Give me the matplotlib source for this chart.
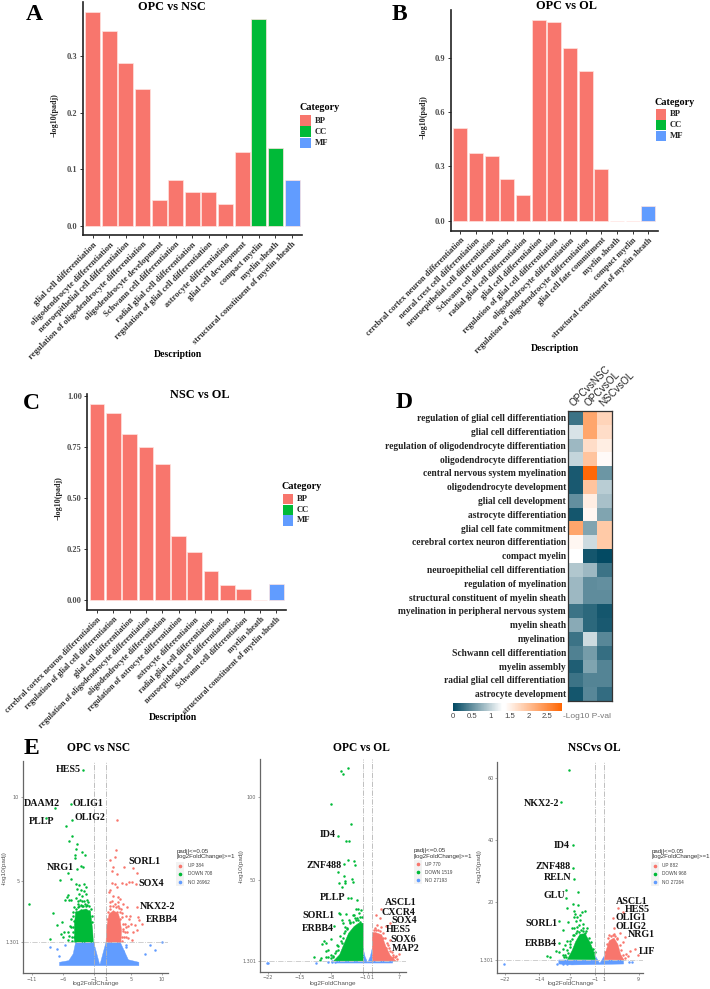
import numpy as np
import matplotlib
matplotlib.use("Agg")
import matplotlib.pyplot as plt
from matplotlib.colors import LinearSegmentedColormap
from matplotlib.patches import Rectangle

W, H = 710, 989
SERIF = "Liberation Serif"
SANS = "Liberation Sans"
BP, CC, MF = "#F8766D", "#00BA38", "#619CFF"

# bar panels
a_terms = ["glial cell differentiation", "oligodendrocyte differentiation",
           "neuroepithelial cell differentiation", "regulation of oligodendrocyte differentiation",
           "oligodendrocyte development", "Schwann cell differentiation",
           "radial glial cell differentiation", "regulation of glial cell differentiation",
           "astrocyte differentiation", "glial cell development", "compact myelin",
           "myelin sheath", "structural constituent of myelin sheath"]
a_vals = [0.378, 0.346, 0.289, 0.243, 0.046, 0.080, 0.059, 0.059, 0.038, 0.130, 0.367, 0.138, 0.081]
a_cats = ["BP"] * 10 + ["CC", "CC", "MF"]

b_terms = ["cerebral cortex neuron differentiation", "neural crest cell differentiation",
           "neuroepithelial cell differentiation", "Schwann cell differentiation",
           "radial glial cell differentiation", "glial cell differentiation",
           "regulation of glial cell differentiation", "oligodendrocyte differentiation",
           "regulation of oligodendrocyte differentiation", "glial cell fate commitment",
           "myelin sheath", "compact myelin", "structural constituent of myelin sheath"]
b_vals = [0.51, 0.375, 0.355, 0.23, 0.14, 1.108, 1.097, 0.955, 0.825, 0.283, 0, 0, 0.08]
b_cats = ["BP"] * 10 + ["CC", "CC", "MF"]

c_terms = ["cerebral cortex neuron differentiation", "regulation of glial cell differentiation",
           "glial cell differentiation", "regulation of oligodendrocyte differentiation",
           "oligodendrocyte differentiation", "regulation of astrocyte differentiation",
           "astrocyte differentiation", "radial glial cell differentiation",
           "neuroepithelial cell differentiation", "Schwann cell differentiation",
           "myelin sheath", "structural constituent of myelin sheath"]
c_vals = [0.962, 0.915, 0.812, 0.75, 0.665, 0.312, 0.236, 0.142, 0.074, 0.055, 0, 0.078]
c_cats = ["BP"] * 10 + ["CC", "MF"]

# heatmap
heat_terms = ["regulation of glial cell differentiation", "glial cell differentiation",
              "regulation of oligodendrocyte differentiation", "oligodendrocyte differentiation",
              "central nervous system myelination", "oligodendrocyte development",
              "glial cell development", "astrocyte differentiation", "glial cell fate commitment",
              "cerebral cortex neuron differentiation", "compact myelin",
              "neuroepithelial cell differentiation", "regulation of myelination",
              "structural constituent of myelin sheath", "myelination in peripheral nervous system",
              "myelin sheath", "myelination", "Schwann cell differentiation", "myelin assembly",
              "radial glial cell differentiation", "astrocyte development"]
heat_cols = ["OPCvsNSC", "OPCvsOL", "NSCvsOL"]
heat_vals = [[0.30, 2.25, 1.80], [1.10, 2.25, 1.70], [0.80, 1.70, 1.55], [1.00, 1.95, 1.42],
             [0.12, 2.85, 0.55], [0.12, 1.95, 0.95], [0.50, 1.55, 0.85], [0.10, 1.45, 0.65],
             [2.25, 0.65, 1.90], [1.45, 1.05, 1.90], [1.32, 0.10, 0.00], [0.90, 0.80, 0.30],
             [0.80, 0.48, 0.50], [0.80, 0.48, 0.48], [0.30, 0.22, 0.10], [0.70, 0.22, 0.12],
             [0.30, 1.05, 0.45], [0.40, 0.60, 0.27], [0.15, 0.65, 0.42], [0.30, 0.42, 0.42],
             [0.10, 0.45, 0.25]]

# volcano 1: OPC vs NSC
v1_down = [(-2.77, 11.61), (-4.6, 9.57), (-7.18, 9.37), (-8.69, 8.77), (-4.44, 8.63), (-5.51, 8.29),
           (-4.49, 7.69), (-4.92, 7.37), (-3.68, 7.19), (-3.84, 6.89), (-2.88, 6.69), (-2.44, 6.53),
           (-4.0, 6.53), (-4.06, 6.33), (-3.04, 5.9), (-2.66, 5.84), (-3.68, 5.72), (-5.14, 5.44),
           (-4.7, 5.1), (-6.43, 5.02), (-11.38, 3.58), (-7.5, 3.08), (-6.16, 2.54), (-6.86, 2.34),
           (-8.04, 1.5), (-5.08, 4.14), (-5.35, 4.04), (-4.97, 3.84), (-5.62, 3.84), (-4.7, 3.84),
           (-6.27, 1.78), (-5.73, 1.94), (-5.08, 1.94), (-5.89, 1.64), (-4.7, 2.24), (-5.08, 1.44),
           (-4.54, 1.64), (-3.9, 4.8), (-3.3, 4.75), (-2.6, 4.8), (-2.3, 4.6), (-3.7, 4.5),
           (-3.0, 4.45), (-2.5, 4.35), (-3.4, 4.2), (-2.9, 4.1), (-2.2, 4.2), (-3.8, 3.95),
           (-3.2, 3.85), (-2.5, 3.8), (-1.9, 3.7), (-3.5, 3.6), (-2.8, 3.5), (-2.2, 3.45),
           (-4.1, 3.4), (-3.1, 3.25), (-2.4, 3.2), (-1.8, 3.15), (-3.9, 3.1),
           (-4.3, 2.9), (-4.2, 2.6), (-4.4, 2.2), (-4.3, 1.9), (-4.2, 1.6), (-4.5, 1.4), (-3.9, 3.3),
           (-3.6, 3.4), (-3.3, 3.5), (-3.0, 3.55), (-2.7, 3.5), (-2.4, 3.6), (-2.1, 3.55), (-1.8, 3.45),
           (-1.5, 3.3), (-1.3, 2.9), (-1.2, 2.5), (-3.6, 3.75), (-2.9, 3.8), (-2.1, 3.85), (-4.4, 3.1),
           (-4.6, 2.7), (-4.8, 2.3), (-4.9, 1.7)]
v1_up = [(2.73, 8.63), (2.62, 6.83), (2.46, 6.43), (1.65, 6.23), (2.2, 5.8), (3.96, 5.8), (5.42, 5.73),
         (6.06, 5.48), (1.92, 5.6), (2.73, 5.4), (1.92, 4.84), (2.46, 4.8), (4.77, 4.9), (5.26, 4.94),
         (5.85, 4.82), (3.53, 4.88), (4.23, 4.8), (1.65, 4.44), (1.49, 4.34), (2.73, 4.6), (6.06, 3.4),
         (6.22, 2.84), (6.77, 2.4), (6.38, 2.64), (5.69, 2.34), (5.42, 1.94), (5.96, 2.04), (5.15, 1.44),
         (4.6, 1.54), (2.9, 4.0), (3.3, 3.9), (1.9, 3.8), (2.4, 3.6), (3.0, 3.5), (3.7, 3.6), (4.4, 3.4),
         (1.6, 3.3), (2.8, 3.1), (3.6, 3.05), (4.2, 2.9), (4.9, 2.85), (2.0, 3.0), (3.3, 2.7), (4.0, 2.4),
         (4.6, 2.3), (3.7, 2.1), (4.4, 1.9), (3.6, 1.6),
         (3.3, 3.1), (3.1, 3.35), (2.6, 3.4), (2.2, 3.45), (1.7, 3.5), (1.3, 3.1), (1.2, 2.7), (3.6, 2.8),
         (3.7, 2.4), (3.8, 2.0), (3.9, 1.6), (3.6, 1.4), (4.2, 2.2), (4.3, 1.6), (4.0, 1.9), (2.9, 3.7),
         (1.6, 3.7), (2.2, 4.1), (3.4, 3.3), (4.7, 2.7), (5.1, 2.4)]
v1_no = [(-8.04, 1.0), (-6.86, 0.88), (-5.57, 1.14), (-6.54, 0.48), (-4.38, 0.34), (-3.2, 0.34),
         (-3.2, 0.2), (10, 1.3), (8.1, 1.14), (8.9, 0.84), (7.3, 0.6), (4.23, 1.14), (4.3, 1.0),
         (3.2, 0.55), (3.8, 0.75)]
v1_down_x = [-1.05, -1.15, -1.5, -2.2, -3.2, -3.9, -4.1, -4.1]
v1_down_y = [1.3, 2.0, 3.1, 3.3, 3.2, 3.1, 2.4, 1.3]
v1_up_x = [1, 1.1, 1.5, 2.2, 3.0, 3.3, 3.5, 3.4]
v1_up_y = [1.3, 2.2, 3.0, 3.2, 3.0, 2.6, 2.0, 1.3]
v1_no_x = [-6.5, -5, -4.3, -3.9, -1, -0.7, -0.05, 0.05, 0.7, 1, 3.3, 3.8, 4.6, 6.3, 6.3, -6.5]
v1_no_y = [0.1, 0.2, 0.6, 1.3, 1.3, 0.9, 0, 0, 0.9, 1.3, 1.3, 0.9, 0.25, 0.1, -0.1, -0.1]

# volcano 2: OPC vs OL
v2_down = [(-4.34, 117.3), (-5.81, 115.9), (-5.37, 113.9), (-8.02, 96), (-3.68, 83.9), (-6.55, 76.7),
           (-4.78, 73.3), (-4.19, 73.3), (-4.42, 61.8), (-3.02, 61.4), (-5.3, 59.6), (-2.8, 58.8),
           (-6.55, 54.8), (-5.22, 52.6), (-3.38, 50.6), (-3.16, 49), (-4.93, 49.4), (-5, 48.4),
           (-6.33, 48.2), (-5.59, 45.6), (-4.34, 39.4), (-3.75, 39.4), (-2.35, 38), (-2.65, 32.3),
           (-2.06, 32.3), (-1.47, 31.9), (-6.33, 30.1), (-6.03, 29.3), (-4.71, 29.3), (-3.16, 28.9),
           (-5.74, 25.9), (-7.36, 22.5), (-5.37, 23.9), (-5, 21.9), (-3.9, 23.9), (-2.65, 25.9),
           (-2.06, 25.9), (-1.69, 24.9), (-4.64, 20.3), (-8.17, 14.7), (-9.71, 13.5), (-10, 11.2),
           (-9.2, 11.8), (-8.68, 7.8), (-9.27, 7.4), (-11.77, 3.4), (-10.4, 3.2), (-10.6, 1.8),
           (-9.27, 3.8), (-7.2, 5.8), (-7.6, 3.8), (-6.5, 7.8), (-5.7, 12), (-6.2, 16), (-5.2, 18),
           (-6.5, 10), (-7, 7), (-7.6, 4), (-6, 13), (-5.5, 15), (-5, 19), (-4.5, 21), (-3.8, 25), (-3.3, 25),
           (-2.7, 27), (-2.3, 27), (-1.8, 28), (-1.3, 28), (-8.2, 5), (-8, 3), (-8.7, 3.5), (-6.8, 11),
           (-4.2, 26), (-3, 29), (-2, 30)]
v2_up = [(2.94, 32.5), (1.91, 28.9), (2.72, 26.9), (4.93, 23.9), (3.97, 22.3), (1.99, 22.9), (1.77, 19.9),
         (4.93, 13.9), (6.92, 5.4), (6.18, 4.2), (5.3, 6.8), (3.97, 8.8), (3.46, 14.9), (4.56, 10.8),
         (5.67, 3.8), (1.3, 20), (1.6, 21), (2.2, 20), (2.7, 19.5), (3.3, 18), (3.8, 15), (4.3, 12), (4.6, 9),
         (5, 7), (5.5, 5), (6, 3.5), (6.5, 2.5), (1.2, 18), (2.9, 22)]
v2_no = [(-22.3, 0.2), (-22.0, 0.2), (-11.5, 0.2), (-8.7, 0.8), (-7.95, 0.4), (-7.8, 1.3), (-7.2, 0.4)]
v2_down_x = [-1, -1, -2, -3, -4.2, -5.3, -6.2, -7.5]
v2_down_y = [1.3, 24, 24, 22, 18, 11, 5, 1.3]
v2_up_x = [1, 1, 1.6, 3.1, 4.0, 5, 6.2]
v2_up_y = [1.3, 17, 18.5, 17, 10, 4.5, 1.3]
v2_no_x = [-7, -1, -1, -0.6, -0.05, 0.05, 0.6, 1, 1, 5.5, 5.5, -7]
v2_no_y = [1.3, 1.3, 8.8, 4, 0.5, 0.5, 4, 8.8, 1.3, 1.3, 0, 0]

# volcano 3: NSC vs OL
v3_down = [(-7.07, 62.6), (-8.93, 52.4), (-6.14, 38.5), (-6.14, 31), (-5.91, 27.5), (-7.84, 23.9),
           (-5.06, 23.2), (-7.77, 21.4), (-6.3, 19.5), (-5, 19), (-7.69, 18.2), (-5.99, 17.2),
           (-5.76, 16.3), (-3.44, 17.2), (-4.21, 16.9), (-4.6, 15.8), (-5.91, 15.3), (-5.22, 15.1),
           (-4.6, 14.2), (-5.53, 14), (-9.47, 13.9), (-7.3, 13.7), (-8.46, 11), (-6.53, 11.5),
           (-5.37, 12), (-3.82, 11.5), (-2.9, 11.5), (-9.39, 6.9), (-10.16, 4.3), (-8.07, 6.1),
           (-8.46, 5), (-12.33, 2.6), (-11.55, 2.4), (-8.62, 2.9), (-7.84, 2.4), (-7.3, 3.4),
           (-9.39, 4), (-6.92, 5.6), (-7.53, 7.5), (-6.2, 9.5), (-4.8, 10.3), (-3.4, 9.9), (-5.6, 10.1),
           (-7.5, 4.5), (-7, 6.5), (-6.5, 8), (-5.9, 9.5), (-5.2, 10.5), (-4.4, 11), (-3.8, 10.8), (-3.1, 10.5),
           (-2.6, 8.5), (-2, 7), (-1.6, 5), (-1.2, 4), (-8, 3), (-8.3, 2.2), (-6.8, 7.5), (-4.9, 12.5),
           (-4.0, 12.8), (-5.9, 11.5)]
v3_up = [(4.21, 18), (5.45, 16.9), (3.13, 14.8), (3.2, 11.6), (4.68, 9.9), (5.83, 8.6), (3.9, 8.3),
         (5.3, 7.2), (8.15, 5), (7, 4.3), (6.07, 3.2), (8.77, 2.9), (6.6, 2.6),
         (1.6, 6.5), (2, 8.3), (2.5, 9), (3, 9.4), (3.6, 9.2), (4.1, 8), (4.6, 6.2), (5, 4.5), (5.4, 3),
         (5.9, 2), (1.2, 3.8), (2.2, 9.4), (3.4, 9.8)]
v3_no = [(-22.1, 0), (-9.85, 0), (-8.6, 0), (-7.5, 0), (-6.5, 0.4), (6.84, 0.7), (7.46, 0.7)]
v3_down_x = [-1, -1.3, -2.2, -3.4, -4.6, -5.6, -6.4, -7.5]
v3_down_y = [1.4, 3.6, 6.8, 9.8, 9.6, 7.2, 4.4, 1.5]
v3_up_x = [1, 1.5, 2.2, 3.3, 4.2, 4.8, 5.6]
v3_up_y = [1.4, 4.5, 7.5, 8.4, 6.3, 3.2, 1.3]
v3_no_x = [-9.5, -1, -1, -0.05, 0.05, 1, 1, 5.5, 5.5, -6.5, -9.5]
v3_no_y = [1.3, 1.3, 2.5, 0.3, 0.3, 2.5, 1.3, 1.3, 0, -0.3, 0]

fig = plt.figure(figsize=(W / 100, H / 100), dpi=100, facecolor="white")


def ax_px(left, top, right, bottom):
    return fig.add_axes([left / W, 1 - bottom / H, (right - left) / W, (bottom - top) / H])


def txt(x, y, s, size, family=SERIF, weight="bold", ha="center", va="center", color="black", rot=0):
    fig.text(x / W, 1 - y / H, s, fontsize=size, family=family, fontweight=weight, ha=ha, va=va,
             color=color, rotation=rot)


def bar_panel(box, terms, vals, cats, ylim, yticks, fmt, label_size):
    ax = ax_px(*box)
    colors = {"BP": BP, "CC": CC, "MF": MF}
    x = np.arange(len(terms))
    ax.bar(x, vals, width=0.9, color=[colors[c] for c in cats], edgecolor="#ffe3e0", linewidth=0.5)
    ax.set_xlim(-0.6, len(terms) - 0.4)
    ax.set_ylim(*ylim)
    ax.set_yticks(yticks)
    ax.set_yticklabels([fmt % t for t in yticks], fontsize=6, family=SERIF, fontweight="bold", color="#4d4d4d")
    ax.set_xticks(x)
    ax.set_xticklabels(terms, rotation=45, ha="right", va="top", rotation_mode="anchor", fontsize=label_size,
                       family=SERIF, fontweight="bold", color="#333333")
    ax.tick_params(axis="both", length=2.5, width=0.7, color="#333333", pad=1.5)
    for side in ["top", "right"]:
        ax.spines[side].set_visible(False)
    for side in ["left", "bottom"]:
        ax.spines[side].set_linewidth(1.2)
        ax.spines[side].set_color("#222222")
    return ax


def category_legend(title_xy, key_x, key_w, key_top, key_h, label_x):
    txt(title_xy[0], title_xy[1], "Category", 7.3)
    for i, (name, col) in enumerate([("BP", BP), ("CC", CC), ("MF", MF)]):
        y = key_top + i * (key_h + 0.5)
        fig.add_artist(Rectangle((key_x / W, 1 - (y + key_h) / H), key_w / W, key_h / H, color=col, lw=0,
                                 transform=fig.transFigure))
        txt(label_x, y + key_h / 2, name, 6.2, ha="left", color="#222222")


bar_panel((82.7, 2, 302, 235), a_terms, a_vals, a_cats, (-0.0167, 0.3966), [0, 0.1, 0.2, 0.3], "%.1f", 6.2)
bar_panel((451, 10, 657.7, 230.7), b_terms, b_vals, b_cats, (-0.055, 1.162), [0, 0.3, 0.6, 0.9], "%.1f", 6.0)
bar_panel((87.3, 394, 286, 610), c_terms, c_vals, c_cats, (-0.049, 1.01), [0, 0.25, 0.5, 0.75, 1], "%.2f", 5.9)

txt(34.3, 14.7, "A", 17)
txt(399, 15, "B", 17)
txt(31, 403.3, "C", 17)
txt(403.7, 402.7, "D", 17)
txt(31.7, 748, "E", 17)
txt(172, 6.7, "OPC vs NSC", 8.8)
txt(566.3, 6, "OPC vs OL", 8.8)
txt(200, 395, "NSC vs OL", 8.8)
txt(55, 115, "\u2212log10(padj)", 5.8, rot=90, color="#222222")
txt(423.3, 116.7, "\u2212log10(padj)", 5.8, rot=90, color="#222222")
txt(59, 498.3, "\u2212log10(padj)", 5.8, rot=90, color="#222222")
txt(177.7, 354, "Description", 7)
txt(555, 348.7, "Description", 7)
txt(172.7, 718, "Description", 7)
category_legend((319.3, 108), 300, 11, 115.3, 10.7, 315)
category_legend((674.3, 102.3), 655.7, 10, 109.3, 10.2, 670)
category_legend((301.7, 486.7), 283.3, 10, 494, 10.2, 296.7)

# heatmap
cmap = LinearSegmentedColormap.from_list("tealorange", [(0, "#034a63"), (1.3 / 2.9, "#ffffff"),
                                                        (1.38 / 2.9, "#ffffff"), (1, "#ff6400")])
hax = ax_px(568, 410.7, 611.7, 700.7)
im = hax.imshow(heat_vals, cmap=cmap, vmin=0, vmax=2.9, aspect="auto")
hax.set_xticks(range(3))
hax.set_xticklabels(heat_cols, rotation=45, ha="left", va="bottom", rotation_mode="anchor", fontsize=7.2,
                    family=SANS, color="#222222")
hax.xaxis.tick_top()
hax.set_yticks(range(len(heat_terms)))
hax.set_yticklabels(heat_terms, fontsize=6.85, family=SERIF, fontweight="bold", color="#222222")
hax.tick_params(axis="both", length=0, pad=1.5)
for s in hax.spines.values():
    s.set_linewidth(0.9)
    s.set_color("#333333")

cax = ax_px(453.3, 702.7, 562.3, 710.7)
cb = fig.colorbar(im, cax=cax, orientation="horizontal")
cb.set_ticks([0, 0.5, 1, 1.5, 2, 2.5])
cb.set_ticklabels(["0", "0.5", "1", "1.5", "2", "2.5"])
cb.ax.tick_params(length=0, labelsize=5.6, pad=2, labelcolor="#444444")
for lab in cb.ax.get_xticklabels():
    lab.set_family(SANS)
cb.outline.set_visible(False)
txt(563, 716, "-Log10 P-val", 6, family=SANS, weight="normal", ha="left", color="#777777")


def volcano(box, xlim, ylim, xticks, yticks, down, up, no, down_env, up_env, no_env):
    ax = ax_px(*box)
    ax.fill(no_env[0], no_env[1], color=MF, lw=0.3)
    ax.fill(down_env[0], down_env[1], color=CC, lw=0.3)
    ax.fill(up_env[0], up_env[1], color=BP, lw=0.3)
    for pts, col in [(no, MF), (down, CC), (up, BP)]:
        ax.scatter(*zip(*pts), s=3.2, color=col, lw=0)
    ax.axhline(1.301, color="#c8c8c8", lw=0.6, ls="-.")
    ax.axvline(-1, color="#b5b5b5", lw=0.6, ls="-.")
    ax.axvline(1, color="#b5b5b5", lw=0.6, ls="-.")
    ax.set_xlim(*xlim)
    ax.set_ylim(*ylim)
    ax.set_xticks(xticks)
    ax.set_yticks(yticks)
    ax.set_yticklabels(["1.301" if t == 1.301 else str(t) for t in yticks])
    ax.tick_params(axis="both", length=1.5, width=0.4, color="#666666", labelsize=3.5, labelcolor="#666666", pad=1)
    for side in ["top", "right"]:
        ax.spines[side].set_visible(False)
    for side in ["left", "bottom"]:
        ax.spines[side].set_linewidth(0.9)
        ax.spines[side].set_color("#666666")
    return ax


volcano((22.7, 760.7, 168, 973.3), (-12.45, 11), (-0.56, 12.19), [-11, -6, -1, 1, 5, 10], [1.301, 5, 10],
        v1_down, v1_up, v1_no, (v1_down_x, v1_down_y), (v1_up_x, v1_up_y), (v1_no_x, v1_no_y))
volcano((259.7, 759.3, 405.7, 972), (-23.84, 8.39), (-5.4, 122.7), [-22, -15, -8, -1, 0, 1, 7], [1.301, 50, 100],
        v2_down, v2_up, v2_no, (v2_down_x, v2_down_y), (v2_up_x, v2_up_y), (v2_no_x, v2_no_y))
volcano((497.3, 761.7, 643.3, 973.3), (-23.76, 10.08), (-3, 65.3), [-22, -14, -7, -1, 1, 9], [1.301, 20, 40, 60],
        v3_down, v3_up, v3_no, (v3_down_x, v3_down_y), (v3_up_x, v3_up_y), (v3_no_x, v3_no_y))

txt(98.3, 747.7, "OPC vs NSC", 8.3)
txt(361.7, 748, "OPC vs OL", 8.3)
txt(594.3, 748, "NSCvs OL", 8.3)
for x in [96, 333, 570.7]:
    txt(x, 984, "log2FoldChange", 4.6, family=SANS, weight="normal", color="#555555")
for x, y in [(4.5, 868), (241.7, 865.7), (479, 866)]:
    txt(x, y, "-log10(padj)", 4.6, family=SANS, weight="normal", color="#555555", rot=90)

# gene labels
v1_labels = [("HES5", 68, 769.3), ("DAAM2", 42, 803), ("OLIG1", 87.5, 803), ("PLLP", 41.3, 822), ("OLIG2", 90, 817.3),
             ("NRG1", 60, 868), ("SORL1", 144.7, 861.7), ("SOX4", 151, 883), ("NKX2-2", 157.3, 906.7), ("ERBB4", 161.3, 920)]
v2_labels = [("ID4", 327.7, 834.7), ("ZNF488", 323.7, 865), ("PLLP", 332.3, 897), ("SORL1", 318.3, 915), ("ERBB4", 317.3, 928.3),
             ("ASCL1", 400.3, 902.7), ("CXCR4", 398.3, 912.3), ("SOX4", 404.3, 920.3), ("HES5", 398.7, 929.7), ("SOX6", 403.7, 940),
             ("MAP2", 405.7, 948.7)]
v3_labels = [("NKX2-2", 541.7, 803), ("ID4", 561.7, 845), ("ZNF488", 553.3, 866.3), ("RELN", 557.7, 878), ("GLU", 554.3, 895),
             ("SORL1", 541, 923.3), ("ERBB4", 540.3, 943.7), ("ASCL1", 632, 901.3), ("HES5", 637.3, 909), ("OLIG1", 631, 917),
             ("OLIG2", 631.3, 926.7), ("NRG1", 641, 934.7), ("LIF", 646.7, 951.7)]
for name, x, y in v1_labels + v2_labels + v3_labels:
    txt(x, y, name, 7.2, color="#111111")


def volcano_legend(title_x, title_y, dot_x, text_x, ys, up_n, down_n, no_n):
    txt(title_x, title_y, "padj|<=0.05\n|log2FoldChange|>=1", 4.4, family=SANS, weight="normal", ha="left", color="#333333")
    entries = [("UP " + up_n, BP), ("DOWN " + down_n, CC), ("NO " + no_n, MF)]
    for (lab, col), y in zip(entries, ys):
        fig.add_artist(Rectangle(((dot_x - 4) / W, 1 - (y + 4) / H), 8 / W, 8 / H, color="#f2f2f2", lw=0,
                                 transform=fig.transFigure))
        fig.add_artist(plt.Line2D([dot_x / W], [1 - y / H], marker="o", ms=1.6, color=col, lw=0,
                                  transform=fig.transFigure))
        txt(text_x, y, lab, 3.4, family=SANS, weight="normal", ha="left", color="#444444")


volcano_legend(176.7, 854, 180.3, 187.5, [865.7, 873.7, 882], "384", "708", "26962")
volcano_legend(414, 853.5, 418, 425, [864, 872.3, 880.3], "770", "1519", "27193")
volcano_legend(652, 854, 655.3, 662.3, [865.7, 873.7, 882], "882", "968", "27264")

fig.savefig("out.png", dpi=100)
